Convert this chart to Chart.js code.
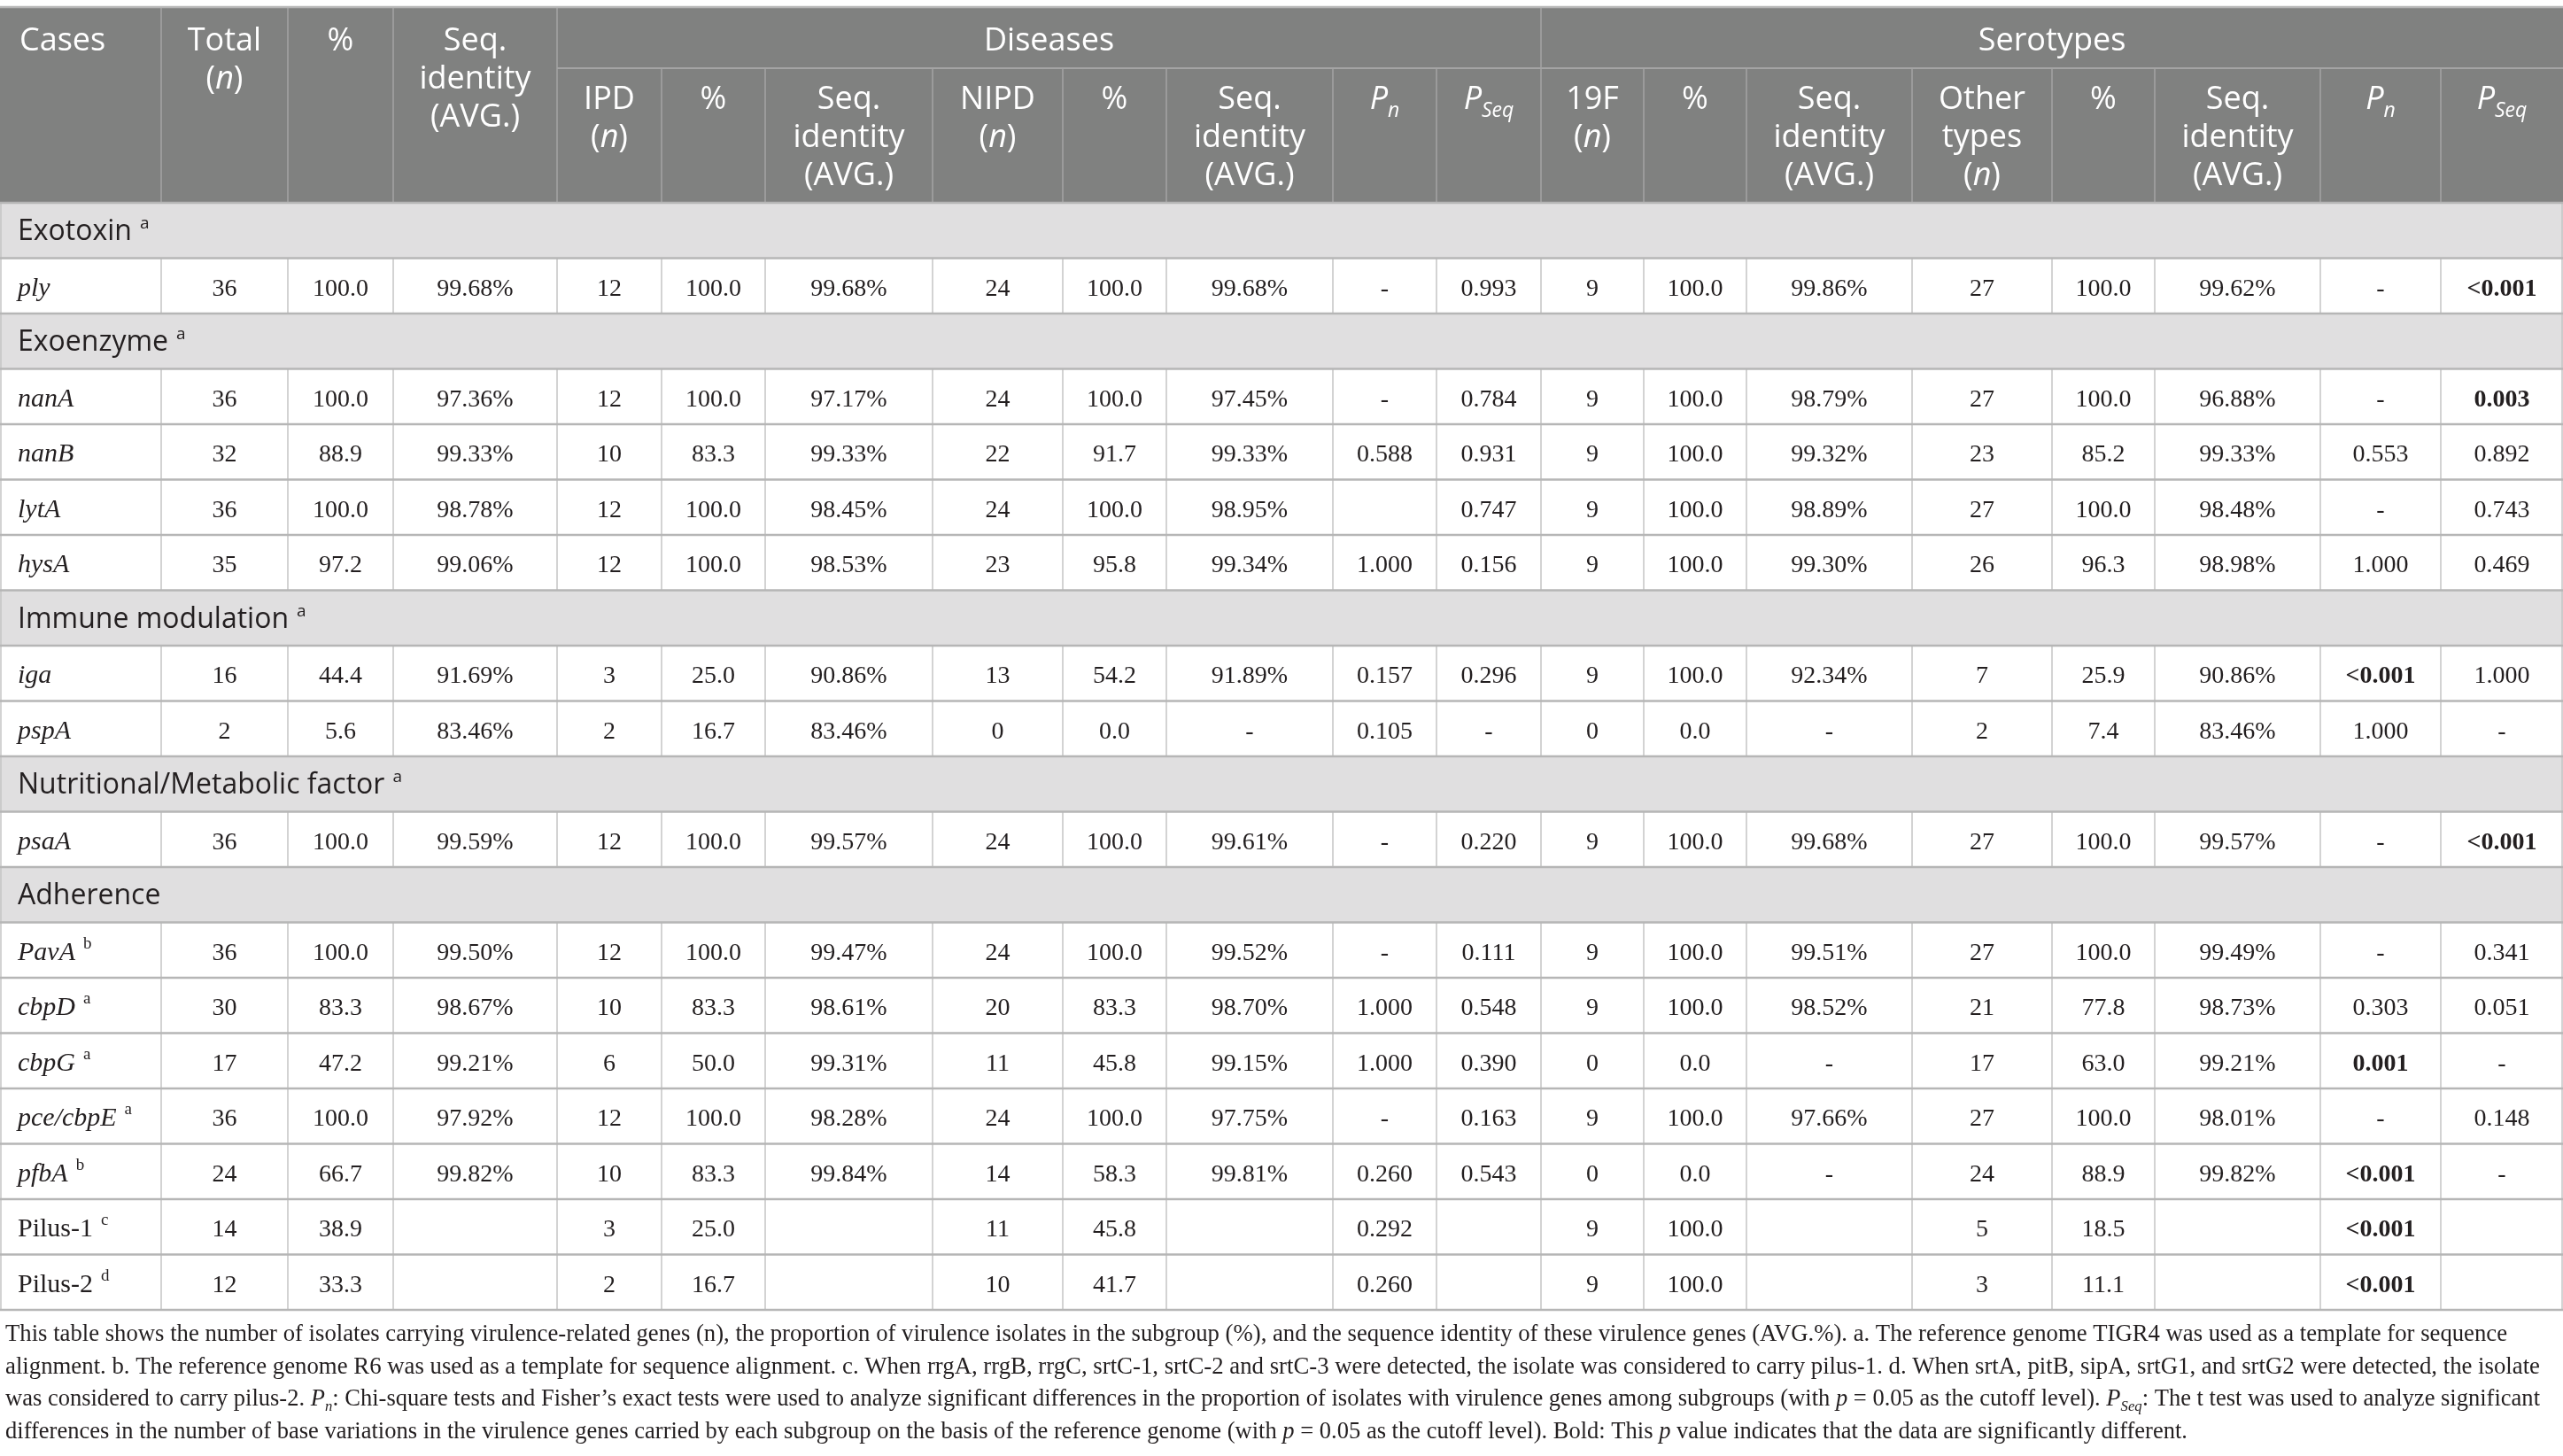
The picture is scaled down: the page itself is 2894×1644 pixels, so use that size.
<!DOCTYPE html>
<html lang="en">
<head>
<meta charset="UTF-8">
<title>Virulence genes by disease and serotype</title>
<script src="https://cdn.jsdelivr.net/npm/chart.js"></script>
<style>
    html, body { margin: 0; padding: 0; background: #fff; overflow: hidden; }
    .wrap { position: relative; width: 2894px; height: 1644px; }
</style>
</head>
<body>
<div class="wrap"><canvas id="tbl"></canvas></div>
<script>
// ---- table content ----
const groups = ['Exotoxin', 'Exoenzyme', 'Immune modulation', 'Nutritional/Metabolic factor', 'Adherence'];
const groupNotes = ['a', 'a', 'a', 'a', ''];
const groupSizes = [1, 4, 2, 1, 7];

const genes = ['ply', 'nanA', 'nanB', 'lytA', 'hysA', 'iga', 'pspA', 'psaA', 'PavA', 'cbpD', 'cbpG', 'pce/cbpE', 'pfbA', 'Pilus-1', 'Pilus-2'];
const geneNotes = ['', '', '', '', '', '', '', '', 'b', 'a', 'a', 'a', 'b', 'c', 'd'];

const total     = [36, 36, 32, 36, 35, 16, 2, 36, 36, 30, 17, 36, 24, 14, 12];
const totalPct  = ['100.0', '100.0', '88.9', '100.0', '97.2', '44.4', '5.6', '100.0', '100.0', '83.3', '47.2', '100.0', '66.7', '38.9', '33.3'];
const totalSeq  = ['99.68%', '97.36%', '99.33%', '98.78%', '99.06%', '91.69%', '83.46%', '99.59%', '99.50%', '98.67%', '99.21%', '97.92%', '99.82%', '', ''];
const ipd       = [12, 12, 10, 12, 12, 3, 2, 12, 12, 10, 6, 12, 10, 3, 2];
const ipdPct    = ['100.0', '100.0', '83.3', '100.0', '100.0', '25.0', '16.7', '100.0', '100.0', '83.3', '50.0', '100.0', '83.3', '25.0', '16.7'];
const ipdSeq    = ['99.68%', '97.17%', '99.33%', '98.45%', '98.53%', '90.86%', '83.46%', '99.57%', '99.47%', '98.61%', '99.31%', '98.28%', '99.84%', '', ''];
const nipd      = [24, 24, 22, 24, 23, 13, 0, 24, 24, 20, 11, 24, 14, 11, 10];
const nipdPct   = ['100.0', '100.0', '91.7', '100.0', '95.8', '54.2', '0.0', '100.0', '100.0', '83.3', '45.8', '100.0', '58.3', '45.8', '41.7'];
const nipdSeq   = ['99.68%', '97.45%', '99.33%', '98.95%', '99.34%', '91.89%', '-', '99.61%', '99.52%', '98.70%', '99.15%', '97.75%', '99.81%', '', ''];
const disPn     = ['-', '-', '0.588', '', '1.000', '0.157', '0.105', '-', '-', '1.000', '1.000', '-', '0.260', '0.292', '0.260'];
const disPseq   = ['0.993', '0.784', '0.931', '0.747', '0.156', '0.296', '-', '0.220', '0.111', '0.548', '0.390', '0.163', '0.543', '', ''];
const s19f      = [9, 9, 9, 9, 9, 9, 0, 9, 9, 9, 0, 9, 0, 9, 9];
const s19fPct   = ['100.0', '100.0', '100.0', '100.0', '100.0', '100.0', '0.0', '100.0', '100.0', '100.0', '0.0', '100.0', '0.0', '100.0', '100.0'];
const s19fSeq   = ['99.86%', '98.79%', '99.32%', '98.89%', '99.30%', '92.34%', '-', '99.68%', '99.51%', '98.52%', '-', '97.66%', '-', '', ''];
const other     = [27, 27, 23, 27, 26, 7, 2, 27, 27, 21, 17, 27, 24, 5, 3];
const otherPct  = ['100.0', '100.0', '85.2', '100.0', '96.3', '25.9', '7.4', '100.0', '100.0', '77.8', '63.0', '100.0', '88.9', '18.5', '11.1'];
const otherSeq  = ['99.62%', '96.88%', '99.33%', '98.48%', '98.98%', '90.86%', '83.46%', '99.57%', '99.49%', '98.73%', '99.21%', '98.01%', '99.82%', '', ''];
const serPn     = ['-', '-', '0.553', '-', '1.000', '<0.001', '1.000', '-', '-', '0.303', '0.001', '-', '<0.001', '<0.001', '<0.001'];
const serPseq   = ['<0.001', '0.003', '0.892', '0.743', '0.469', '1.000', '-', '<0.001', '0.341', '0.051', '-', '0.148', '-', '', ''];

// header labels (* = italic, ~ = subscript)
const headTop = [['Cases'], ['Total', '(*n*)'], ['%'], ['Seq.', 'identity', '(AVG.)']];
const headGroups = ['Diseases', 'Serotypes'];
const headSub = [
    ['IPD', '(*n*)'], ['%'], ['Seq.', 'identity', '(AVG.)'],
    ['NIPD', '(*n*)'], ['%'], ['Seq.', 'identity', '(AVG.)'],
    ['*P*~*n*~'], ['*P*~*Seq*~'],
    ['19F', '(*n*)'], ['%'], ['Seq.', 'identity', '(AVG.)'],
    ['Other', 'types', '(*n*)'], ['%'], ['Seq.', 'identity', '(AVG.)'],
    ['*P*~*n*~'], ['*P*~*Seq*~']
];

const footnote = [
    'This table shows the number of isolates carrying virulence-related genes (n), the proportion of virulence isolates in the subgroup (%), and the sequence identity of these virulence genes (AVG.%). a. The reference genome TIGR4 was used as a template for sequence',
    'alignment. b. The reference genome R6 was used as a template for sequence alignment. c. When rrgA, rrgB, rrgC, srtC-1, srtC-2 and srtC-3 were detected, the isolate was considered to carry pilus-1. d. When srtA, pitB, sipA, srtG1, and srtG2 were detected, the isolate',
    'was considered to carry pilus-2. *P*~*n*~: Chi-square tests and Fisher\u2019s exact tests were used to analyze significant differences in the proportion of isolates with virulence genes among subgroups (with *p* = 0.05 as the cutoff level). *P*~*Seq*~: The t test was used to analyze significant',
    'differences in the number of base variations in the virulence genes carried by each subgroup on the basis of the reference genome (with *p* = 0.05 as the cutoff level). Bold: This *p* value indicates that the data are significantly different.'
];

// ---- layout ----
const W = 2894, H = 1644;
const colEdges = [0, 182, 325, 444, 629, 747, 864, 1053, 1200, 1317, 1505, 1622, 1740, 1856, 1972, 2159, 2317, 2433, 2620, 2756, 2894];
const TOP = 8, HEAD_MID = 77, HEAD_BOT = 229, ROW_H = 62.5;
const footY = [1514, 1551, 1587, 1624];
const footRight = [2831, 2868, 2868, null];
const SANS = '"Open Sans", "Noto Sans", sans-serif';
const SERIF = '"Liberation Serif", "DejaVu Serif", serif';
const INK = '#231f20';

const valueCols = [total, totalPct, totalSeq, ipd, ipdPct, ipdSeq, nipd, nipdPct, nipdSeq, disPn, disPseq,
                   s19f, s19fPct, s19fSeq, other, otherPct, otherSeq, serPn, serPseq];
const pCols = [9, 10, 17, 18];

const rows = [];
let gk = 0;
groups.forEach((g, gi) => {
    rows.push({ type: 'group', gi: gi });
    for (let j = 0; j < groupSizes[gi]; j++) rows.push({ type: 'gene', k: gk++ });
});
const rowTop = i => HEAD_BOT + i * ROW_H;

const labelPts = [], cellPts = [], groupPts = [];
rows.forEach((r, i) => {
    const y = rowTop(i) + ROW_H / 2;
    if (r.type === 'group') {
        groupPts.push({ x: 20, y: y, gi: r.gi });
    } else {
        labelPts.push({ x: 20, y: y, k: r.k });
        valueCols.forEach((col, c) => {
            const v = String(col[r.k]);
            const sig = pCols.includes(c) && (v.startsWith('<') || parseFloat(v) < 0.05);
            cellPts.push({ x: (colEdges[c + 1] + colEdges[c + 2]) / 2, y: y, v: v, bold: sig });
        });
    }
});

function parseRuns(str, size, family, weight) {
    const out = [];
    let it = false, sub = false, buf = '';
    const push = () => {
        if (!buf) return;
        const sz = sub ? Math.round(size * 0.64) : size;
        out.push({ t: buf, f: (it ? 'italic ' : '') + (weight || 'normal') + ' ' + sz + 'px ' + family, dy: sub ? size * 0.24 : 0 });
        buf = '';
    };
    for (const ch of str) {
        if (ch === '*') { push(); it = !it; }
        else if (ch === '~') { push(); sub = !sub; }
        else buf += ch;
    }
    push();
    return out;
}

function runsWidth(ctx, runs) {
    let w = 0;
    runs.forEach(r => { ctx.font = r.f; r.w = ctx.measureText(r.t).width; w += r.w; });
    return w;
}

function drawRuns(ctx, runs, x, y, align, sx) {
    const w = runsWidth(ctx, runs);
    const s = sx || 1;
    let cx = align === 'center' ? x - w * s / 2 : x;
    ctx.save();
    ctx.translate(cx, y);
    ctx.scale(s, 1);
    let ox = 0;
    runs.forEach(r => { ctx.font = r.f; ctx.fillText(r.t, ox, r.dy); ox += r.w; });
    ctx.restore();
}

const tablePlugin = {
    id: 'tablePlugin',
    beforeDatasetsDraw(chart) {
        const { ctx, scales: { x, y } } = chart;
        const px = v => x.getPixelForValue(v), py = v => y.getPixelForValue(v);
        ctx.save();
        // header block
        ctx.fillStyle = '#808180';
        ctx.fillRect(px(0), py(TOP), px(W) - px(0), py(HEAD_BOT) - py(TOP));
        // group rows
        rows.forEach((r, i) => {
            if (r.type !== 'group') return;
            ctx.fillStyle = '#e0dfe0';
            ctx.fillRect(px(0), py(rowTop(i)), px(W) - px(0), ROW_H);
        });
        // header lines
        ctx.strokeStyle = '#a4a4a4';
        ctx.lineWidth = 1.5;
        colEdges.slice(1, -1).forEach((e, j) => {
            const full = j < 4 || e === 1740;
            ctx.beginPath();
            ctx.moveTo(px(e), py(full ? TOP : HEAD_MID));
            ctx.lineTo(px(e), py(HEAD_BOT));
            ctx.stroke();
        });
        ctx.lineWidth = 2;
        ctx.beginPath();
        ctx.moveTo(px(629), py(HEAD_MID));
        ctx.lineTo(px(W), py(HEAD_MID));
        ctx.stroke();
        // body vertical lines
        ctx.strokeStyle = '#c4c4c4';
        ctx.lineWidth = 1.5;
        rows.forEach((r, i) => {
            const edges = r.type === 'gene' ? colEdges : [colEdges[0], colEdges[colEdges.length - 1]];
            edges.forEach(e => {
                const ex = Math.min(Math.max(px(e), 1), W - 1);
                ctx.beginPath();
                ctx.moveTo(ex, py(rowTop(i)));
                ctx.lineTo(ex, py(rowTop(i + 1)));
                ctx.stroke();
            });
        });
        // horizontal rules
        ctx.strokeStyle = '#b6b6b6';
        ctx.lineWidth = 2.5;
        const hy = [TOP, HEAD_BOT];
        rows.forEach((r, i) => hy.push(rowTop(i + 1)));
        hy.forEach(v => {
            ctx.beginPath();
            ctx.moveTo(px(0), py(v));
            ctx.lineTo(px(W), py(v));
            ctx.stroke();
        });
        ctx.restore();
    },
    afterDatasetsDraw(chart) {
        const { ctx, scales: { x, y } } = chart;
        const px = v => x.getPixelForValue(v), py = v => y.getPixelForValue(v);
        ctx.save();
        ctx.textBaseline = 'alphabetic';
        ctx.textAlign = 'left';

        // header text
        ctx.fillStyle = '#ffffff';
        const topBase = [57, 100, 143], subBase = [123, 166, 209];
        headTop.forEach((lines, c) => {
            const left = c === 0;
            const cx = left ? px(colEdges[0] + 22) : px((colEdges[c] + colEdges[c + 1]) / 2);
            lines.forEach((ln, li) => drawRuns(ctx, parseRuns(ln, 36, SANS), cx, py(topBase[li]), left ? 'left' : 'center'));
        });
        drawRuns(ctx, parseRuns(headGroups[0], 36, SANS), px((629 + 1740) / 2), py(topBase[0]), 'center');
        drawRuns(ctx, parseRuns(headGroups[1], 36, SANS), px((1740 + W) / 2), py(topBase[0]), 'center');
        headSub.forEach((lines, j) => {
            const c = j + 4;
            const cx = px((colEdges[c] + colEdges[c + 1]) / 2);
            lines.forEach((ln, li) => drawRuns(ctx, parseRuns(ln, 36, SANS), cx, py(subBase[li]), 'center'));
        });

        ctx.fillStyle = INK;
        // group labels
        chart.getDatasetMeta(2).data.forEach((el, i) => {
            const raw = chart.data.datasets[2].data[i];
            const runs = parseRuns(groups[raw.gi], 32, SANS);
            drawRuns(ctx, runs, el.x, el.y + 11, 'left');
            if (groupNotes[raw.gi]) {
                const w = runsWidth(ctx, runs);
                ctx.font = '19px ' + SANS;
                ctx.fillText(groupNotes[raw.gi], el.x + w + 9, el.y - 2);
            }
        });
        // gene labels
        chart.getDatasetMeta(0).data.forEach((el, i) => {
            const raw = chart.data.datasets[0].data[i];
            const name = genes[raw.k];
            const italic = !name.startsWith('Pilus');
            ctx.font = (italic ? 'italic ' : '') + '30px ' + SERIF;
            ctx.fillText(name, el.x, el.y + 11);
            const w = ctx.measureText(name).width;
            if (geneNotes[raw.k]) {
                ctx.font = '19px ' + SERIF;
                ctx.fillText(geneNotes[raw.k], el.x + w + 9, el.y - 2);
            }
        });
        // values
        ctx.textAlign = 'center';
        chart.getDatasetMeta(1).data.forEach((el, i) => {
            const raw = chart.data.datasets[1].data[i];
            if (!raw.v) return;
            ctx.font = (raw.bold ? 'bold ' : '') + '28px ' + SERIF;
            ctx.fillText(raw.v, el.x, el.y + 11);
        });

        // footnote
        ctx.textAlign = 'left';
        ctx.fillStyle = INK;
        let lastScale = 1;
        footnote.forEach((ln, i) => {
            const runs = parseRuns(ln, 27, SERIF);
            const w = runsWidth(ctx, runs);
            const s = footRight[i] ? (footRight[i] - 6) / w : lastScale;
            lastScale = s;
            drawRuns(ctx, runs, px(6), py(footY[i]), 'left', s);
        });
        ctx.restore();
    }
};

new Chart(document.getElementById('tbl'), {
    type: 'scatter',
    data: {
        datasets: [
            { label: 'genes', data: labelPts, pointRadius: 0 },
            { label: 'cells', data: cellPts, pointRadius: 0 },
            { label: 'groups', data: groupPts, pointRadius: 0 }
        ]
    },
    options: {
        responsive: true,
        maintainAspectRatio: false,
        animation: false,
        events: [],
        layout: { padding: 0 },
        plugins: { legend: { display: false }, tooltip: { enabled: false } },
        scales: {
            x: { type: 'linear', min: 0, max: W, display: false },
            y: { type: 'linear', min: 0, max: H, reverse: true, display: false }
        }
    },
    plugins: [tablePlugin]
});
</script>
</body>
</html>
